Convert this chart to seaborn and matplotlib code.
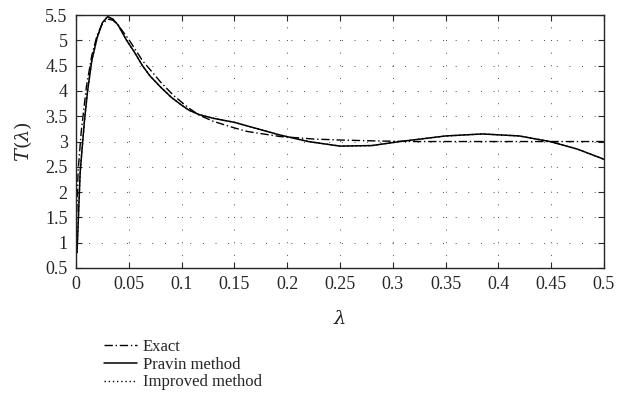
import matplotlib
matplotlib.use("Agg")
import matplotlib.pyplot as plt
import seaborn as sns
import pandas as pd
import numpy as np

# values
lam_exact = [0.0008, 0.002, 0.005, 0.01, 0.015, 0.02, 0.025, 0.03, 0.035, 0.04, 0.05,
             0.063, 0.08, 0.092, 0.1, 0.107, 0.117, 0.13, 0.15, 0.162, 0.193, 0.225, 0.25,
             0.288, 0.32, 0.36, 0.4, 0.45, 0.5]
t_exact = [1.6, 2.4, 3.2, 4.1, 4.7, 5.1, 5.33, 5.42, 5.4, 5.3, 5.02,
           4.6, 4.18, 3.92, 3.78, 3.66, 3.52, 3.4, 3.27, 3.2, 3.1, 3.05, 3.03,
           3.01, 3.0, 3.0, 3.0, 3.0, 3.0]

lam_pravin = [0.001, 0.004, 0.008, 0.011, 0.015, 0.02, 0.025, 0.03, 0.035, 0.04, 0.048,
              0.055, 0.063, 0.07, 0.08, 0.09, 0.1, 0.107, 0.117, 0.13, 0.15, 0.193,
              0.22, 0.25, 0.28, 0.307, 0.35, 0.385, 0.42, 0.449, 0.475, 0.5]
t_pravin = [0.8, 2.4, 3.4, 4.0, 4.6, 5.05, 5.35, 5.47, 5.42, 5.3, 5.0,
            4.78, 4.5, 4.3, 4.08, 3.88, 3.72, 3.62, 3.53, 3.46, 3.38, 3.13,
            3.0, 2.91, 2.92, 3.0, 3.11, 3.15, 3.11, 3.0, 2.85, 2.65]

# improved method sits on top of the Pravin curve in the figure
lam_improved = lam_pravin
t_improved = t_pravin

sns.set_style("ticks")
plt.rcParams['font.family'] = ['Liberation Serif', 'DejaVu Serif']
plt.rcParams['mathtext.fontset'] = 'dejavuserif'

fig = plt.figure(figsize=(6.33, 4.2), dpi=100)
ax = fig.add_axes([0.120, 0.362, 0.834, 0.602])

df_e = pd.DataFrame({'lam': lam_exact, 'T': t_exact})
df_p = pd.DataFrame({'lam': lam_pravin, 'T': t_pravin})
df_i = pd.DataFrame({'lam': lam_improved, 'T': t_improved})

sns.lineplot(data=df_e, x='lam', y='T', ax=ax, color='black', lw=1.0,
             linestyle=(0, (6, 2, 1, 2)), label='Exact')
sns.lineplot(data=df_p, x='lam', y='T', ax=ax, color='black', lw=1.1,
             label='Pravin method')
sns.lineplot(data=df_i, x='lam', y='T', ax=ax, color='black', lw=1.0,
             linestyle=(0, (1, 2)), label='Improved method')

ax.set_xlim(0, 0.5)
ax.set_ylim(0.5, 5.5)
ax.set_xticks(np.arange(0, 0.51, 0.05))
ax.set_xticklabels(['0', '0.05', '0.1', '0.15', '0.2', '0.25', '0.3', '0.35', '0.4', '0.45', '0.5'])
ax.set_yticks(np.arange(0.5, 5.51, 0.5))
ax.set_yticklabels(['0.5', '1', '1.5', '2', '2.5', '3', '3.5', '4', '4.5', '5', '5.5'])
ax.tick_params(direction='in', top=True, right=True, labelsize=13, length=4, width=0.8, pad=6)
ax.grid(True, color='black', linestyle=(0, (1, 12)), lw=0.7, alpha=0.7)
for s in ax.spines.values():
    s.set_linewidth(1.0)

ax.set_xlabel(r'$\lambda$', fontsize=14, labelpad=12)
ax.set_ylabel(r'$T(\lambda)$', fontsize=14, labelpad=8)

ax.legend(loc='upper left', bbox_to_anchor=(0.04, -0.255), frameon=False, fontsize=12,
          handlelength=2.0, handletextpad=0.35, labelspacing=0.1, borderaxespad=0)

fig.savefig('out.png', dpi=100)
